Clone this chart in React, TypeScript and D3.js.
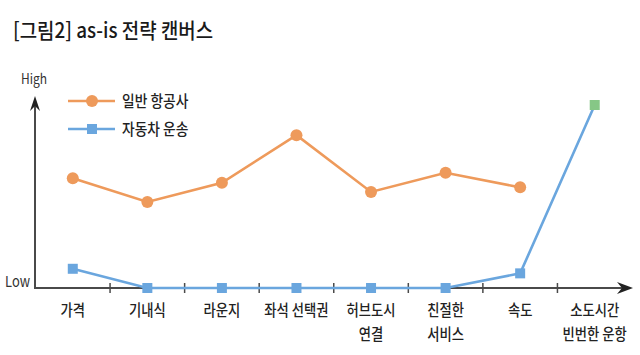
import React from "react";
import * as d3 from "d3";

const title = "[그림2] as-is 전략 캔버스";
const categories = ["가격", "기내식", "라운지", "좌석 선택권", "허브도시\n연결", "친절한\n서비스", "속도", "소도시간\n빈번한 운항"];
const airline: (number | null)[] = [60, 47, 57.5, 83.5, 52.5, 63, 55, null];
const carTransport: number[] = [10.5, 0, 0, 0, 0, 0, 8, 100];
const seriesNames = ["일반 항공사", "자동차 운송"];
const yLabels = ["High", "Low"];

const W = 640, H = 355;
const FONT = "'Noto Sans CJK KR', 'Noto Sans', sans-serif";
const ORANGE = "#EE9A5B";
const BLUE = "#6AA6DE";
const GREEN = "#86C786";
const AXIS = "#4a4a4a";

function T({ x, y, size, children, anchor = "start", fill = "#222", weight = 500, sx = 0.86 }: any) {
  return (
    <text
      transform={`translate(${x},${y}) scale(${sx},1)`}
      fontSize={size}
      fontFamily={FONT}
      textAnchor={anchor}
      fill={fill}
      fontWeight={weight}
    >
      {children}
    </text>
  );
}

export default function App() {
  const x = d3.scaleBand<string>().domain(categories).range([35.5, 632]).padding(0);
  const y = d3.scaleLinear().domain([0, 100]).range([288, 105]);
  const cx = (c: string) => (x(c) as number) + x.bandwidth() / 2;

  const lineA = d3
    .line<number | null>()
    .defined((d) => d !== null)
    .x((_, i) => cx(categories[i]))
    .y((d) => y(d as number));
  const lineB = d3
    .line<number>()
    .x((_, i) => cx(categories[i]))
    .y((d) => y(d));

  const y0 = y(0);
  const ticks = categories.slice(1).map((c) => x(c) as number);

  return (
    <svg width={W} height={H} style={{ position: "absolute", left: 0, top: 0, background: "#fff" }}>
      <rect width={W} height={H} fill="#fff" />
      <T x={13} y={38} size={21} sx={0.9} fill="#1a1a1a">{title}</T>

      {/* axes */}
      <line x1={35} y1={y0} x2={625} y2={y0} stroke={AXIS} strokeWidth={2} />
      <path d={`M633,${y0} L617,${y0 - 6} L622,${y0} L617,${y0 + 6} Z`} fill="#222" />
      <line x1={35} y1={y0 + 1} x2={35} y2={104} stroke={AXIS} strokeWidth={2} />
      <path d={`M35,96 L30,111 L35,106 L40,111 Z`} fill="#222" />
      {ticks.map((t, i) => (
        <line key={i} x1={t} x2={t} y1={y0 - 5} y2={y0 + 5} stroke={AXIS} strokeWidth={1.5} />
      ))}

      <T x={34} y={84} size={14} anchor="middle" fill="#333" weight={400}>{yLabels[0]}</T>
      <T x={17.5} y={287} size={15} anchor="middle" fill="#333" weight={400}>{yLabels[1]}</T>

      {/* series */}
      <path d={lineB(carTransport) || ""} fill="none" stroke={BLUE} strokeWidth={2.6} />
      <path d={lineA(airline) || ""} fill="none" stroke={ORANGE} strokeWidth={2.6} />
      {airline.map((v, i) =>
        v === null ? null : <circle key={i} cx={cx(categories[i])} cy={y(v)} r={6} fill={ORANGE} />
      )}
      {carTransport.map((v, i) => (
        <rect
          key={i}
          x={cx(categories[i]) - 5}
          y={y(v) - 5}
          width={10}
          height={10}
          fill={i === carTransport.length - 1 ? GREEN : BLUE}
        />
      ))}

      {/* legend */}
      <line x1={68} x2={115} y1={101} y2={101} stroke={ORANGE} strokeWidth={2.6} />
      <circle cx={92} cy={101} r={6} fill={ORANGE} />
      <T x={122} y={107} size={16}>{seriesNames[0]}</T>
      <line x1={68} x2={115} y1={129} y2={129} stroke={BLUE} strokeWidth={2.6} />
      <rect x={87} y={124} width={10} height={10} fill={BLUE} />
      <T x={122} y={135} size={16}>{seriesNames[1]}</T>

      {/* category labels */}
      {categories.map((c, i) => (
        <g key={i}>
          {c.split("\n").map((ln, j) => (
            <T key={j} x={cx(c)} y={316 + j * 24} size={15.5} anchor="middle">{ln}</T>
          ))}
        </g>
      ))}
    </svg>
  );
}
